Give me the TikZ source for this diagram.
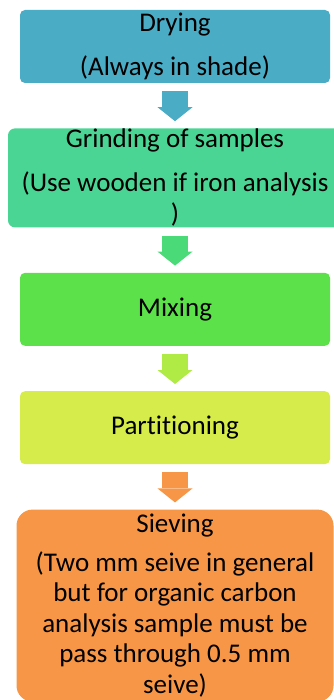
\documentclass[tikz,border=0pt]{standalone}
\usepackage{fontspec}
\setmainfont{Carlito}[Ligatures=NoCommon]
\usetikzlibrary{positioning,arrows.meta}
\definecolor{dryblue}{HTML}{4BACC6}
\definecolor{grindgreen}{HTML}{4AD594}
\definecolor{grindarrow}{HTML}{4ADA78}
\definecolor{mixgreen}{HTML}{5DE14B}
\definecolor{mixarrow}{HTML}{B0EB45}
\definecolor{partyellow}{HTML}{D6EC4B}
\definecolor{sieveorange}{HTML}{F79646}

\begin{document}
\begin{tikzpicture}[node distance=45pt,
      stage/.style={inner sep=0pt, align=center, text=black,
          font=\fontsize{27pt}{31pt}\selectfont},
      flow/.style={line width=26pt,
          -{Triangle[width=35pt,length=14pt,line width=0pt]}}]
    \useasboundingbox (0,0) rectangle (333pt,-700pt);

    \node[stage, fill=dryblue, rounded corners=5pt,
        minimum width=310pt, minimum height=73pt]
        (drying) at (175pt,-46.5pt) {Drying\\[13pt](Always in shade)};
    \node[stage, fill=grindgreen, rounded corners=7pt,
        minimum width=334pt, minimum height=99pt, below=of drying]
        (grinding) {Grinding of samples\\[13pt](Use wooden if iron analysis\\)};
    \node[stage, fill=mixgreen, rounded corners=5pt,
        minimum width=310pt, minimum height=73pt, below=of grinding]
        (mixing) {Mixing};
    \node[stage, fill=partyellow, rounded corners=5pt,
        minimum width=310pt, minimum height=73pt, below=of mixing]
        (partition) {Partitioning};
    \node[stage, fill=sieveorange, rounded corners=16pt,
        minimum width=317pt, minimum height=192pt, below=of partition,
        font=\fontsize{27pt}{30.5pt}\selectfont]
        (sieving) {Sieving\\[8pt](Two mm seive in general\\but for organic carbon\\
            analysis sample must be\\pass through 0.5 mm\\seive)};

    % arrows between the stages
    \draw[flow, dryblue] ([yshift=-8pt]drying.south) -- ([yshift=7pt]grinding.north);
    \draw[flow, grindarrow] ([yshift=-8pt]grinding.south) -- ([yshift=7pt]mixing.north);
    \draw[flow, mixarrow] ([yshift=-8pt]mixing.south) -- ([yshift=7pt]partition.north);
    \draw[flow, sieveorange] ([yshift=-8pt]partition.south) -- ([yshift=7pt]sieving.north);
\end{tikzpicture}
\end{document}
